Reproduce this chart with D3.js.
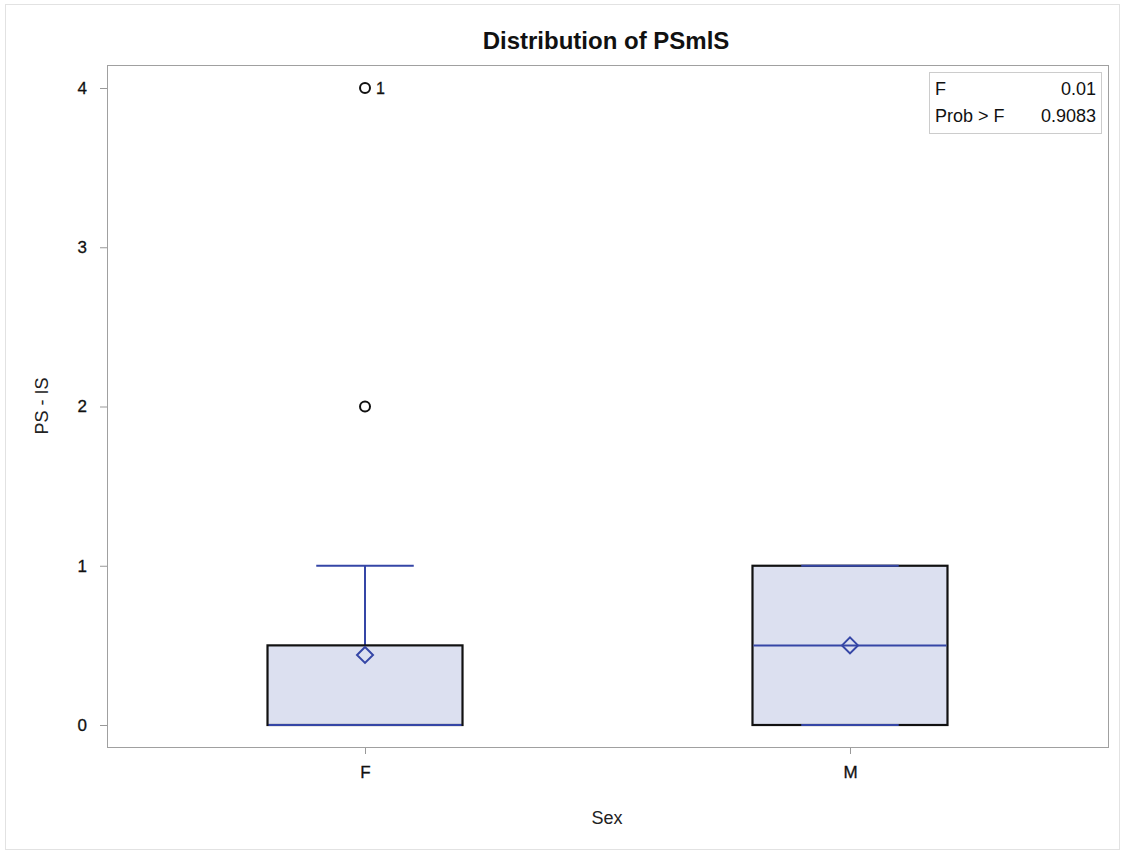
<!DOCTYPE html>
<html><head><meta charset="utf-8">
<script src="https://cdn.jsdelivr.net/npm/d3@7"></script>
<style>body{margin:0;background:#fff}svg{display:block}text{font-family:"Liberation Sans",Arial,sans-serif}</style>
</head><body><svg id="c" width="1125" height="854"></svg>
<script>
const categories = ["F", "M"];
const q1 = [0, 0];
const median = [0, 0.5];
const q3 = [0.5, 1];
const mean = [0.44, 0.5];
const whiskerLow = [0, 0];
const whiskerHigh = [1, 1];
const outliers = [{cat: "F", value: 2, label: ""}, {cat: "F", value: 4, label: "1"}];
const yTicks = [0, 1, 2, 3, 4];
const statLabels = ["F", "Prob > F"];
const statValues = ["0.01", "0.9083"];

const svg = d3.select("#c");
const L = 107, R = 1108, T = 65, B = 747;
const blue = "#3546a6";
svg.append("rect").attr("x", 5.5).attr("y", 4.5).attr("width", 1114).attr("height", 845)
  .attr("fill", "none").attr("stroke", "#e2e2e2");

const x = d3.scalePoint().domain(categories).range([L, R]).padding(0.532);
const y = d3.scaleLinear().domain([0, 4]).range([725, 88]);
const bw = 195;

svg.append("text").attr("x", 606).attr("y", 49).attr("text-anchor", "middle")
  .attr("font-size", 24).attr("font-weight", "bold").attr("fill", "#111").text("Distribution of PSmlS");

const ya = svg.append("g").attr("transform", `translate(${L},0)`)
  .call(d3.axisLeft(y).tickValues(yTicks).tickFormat(d3.format("d")).tickSize(7).tickPadding(13));
const xa = svg.append("g").attr("transform", `translate(0,${B})`)
  .call(d3.axisBottom(x).tickSize(7).tickPadding(12));
[ya, xa].forEach(g => {
  g.select(".domain").remove();
  g.selectAll("line").attr("stroke", "#999");
  g.selectAll("text").attr("font-size", 17).attr("fill", "#111").attr("stroke", "#111").attr("stroke-width", 0.3)
    .style("font-family", '"Liberation Sans",Arial,sans-serif');
});
svg.append("rect").attr("x", L + .5).attr("y", T + .5).attr("width", R - L).attr("height", B - T)
  .attr("fill", "none").attr("stroke", "#a0a0a0");

svg.append("text").attr("x", 607).attr("y", 824).attr("text-anchor", "middle").attr("font-size", 18).attr("fill", "#222").text("Sex");
svg.append("text").attr("transform", "translate(48,406) rotate(-90)").attr("text-anchor", "middle").attr("font-size", 18).attr("fill", "#222").text("PS - IS");

categories.forEach((c, i) => {
  const cx = x(c);
  const g = svg.append("g");
  g.append("line").attr("x1", cx).attr("x2", cx).attr("y1", y(q3[i])).attr("y2", y(whiskerHigh[i])).attr("stroke", blue).attr("stroke-width", 2);
  g.append("line").attr("x1", cx).attr("x2", cx).attr("y1", y(q1[i])).attr("y2", y(whiskerLow[i])).attr("stroke", blue).attr("stroke-width", 2);
  g.append("rect").attr("x", cx - bw / 2).attr("y", y(q3[i])).attr("width", bw).attr("height", y(q1[i]) - y(q3[i]))
    .attr("fill", "#dce0f0").attr("stroke", "#111").attr("stroke-width", 2.2);
  g.append("line").attr("x1", cx - bw / 4).attr("x2", cx + bw / 4).attr("y1", y(whiskerHigh[i])).attr("y2", y(whiskerHigh[i])).attr("stroke", blue).attr("stroke-width", 2);
  g.append("line").attr("x1", cx - bw / 4).attr("x2", cx + bw / 4).attr("y1", y(whiskerLow[i])).attr("y2", y(whiskerLow[i])).attr("stroke", blue).attr("stroke-width", 2);
  g.append("line").attr("x1", cx - bw / 2 + 1).attr("x2", cx + bw / 2 - 1).attr("y1", y(median[i])).attr("y2", y(median[i])).attr("stroke", blue).attr("stroke-width", 2);
  const my = y(mean[i]), s = 8;
  g.append("path").attr("d", `M${cx},${my - s}L${cx + s},${my}L${cx},${my + s}L${cx - s},${my}Z`)
    .attr("fill", "none").attr("stroke", blue).attr("stroke-width", 2);
});

outliers.forEach(o => {
  svg.append("circle").attr("cx", x(o.cat)).attr("cy", y(o.value)).attr("r", 5)
    .attr("fill", "none").attr("stroke", "#111").attr("stroke-width", 2);
  if (o.label) svg.append("text").attr("x", x(o.cat) + 11).attr("y", y(o.value) + 6).attr("font-size", 16)
    .attr("fill", "#111").attr("stroke", "#111").attr("stroke-width", 0.3).text(o.label);
});

const ix = 929, iy = 72, iw = 172, ih = 61;
svg.append("rect").attr("x", ix + .5).attr("y", iy + .5).attr("width", iw).attr("height", ih).attr("fill", "#fff").attr("stroke", "#ccc");
statLabels.forEach((t, i) => {
  svg.append("text").attr("x", ix + 6).attr("y", iy + 23 + i * 27).attr("font-size", 18).attr("fill", "#111").text(t);
  svg.append("text").attr("x", ix + iw - 5).attr("y", iy + 23 + i * 27).attr("text-anchor", "end").attr("font-size", 18).attr("fill", "#111").text(statValues[i]);
});
</script></body></html>
